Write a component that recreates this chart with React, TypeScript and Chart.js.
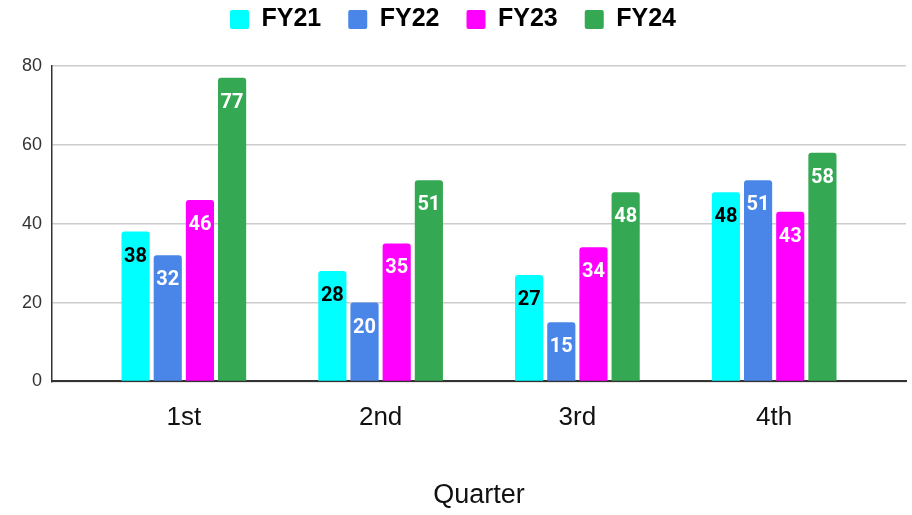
import React, { useEffect, useRef } from "react";
import { Chart, registerables } from "chart.js";

Chart.register(...registerables);

const QUARTERS = ["1st", "2nd", "3rd", "4th"];
const SERIES_NAMES = ["FY21", "FY22", "FY23", "FY24"];
const FY21 = [38, 28, 27, 48];
const FY22 = [32, 20, 15, 51];
const FY23 = [46, 35, 34, 43];
const FY24 = [77, 51, 48, 58];
const Y_TICKS = [0, 20, 40, 60, 80];
const X_TITLE = "Quarter";

const COLORS = ["#00ffff", "#4a86e8", "#ff00ff", "#34a853"];
const LABEL_COLORS = ["#000000", "#ffffff", "#ffffff", "#ffffff"];

const valueLabels = {
  id: "valueLabels",
  afterDatasetsDraw(chart: any) {
    const ctx = chart.ctx;
    ctx.save();
    ctx.font = "bold 20px Roboto";
    ctx.textAlign = "center";
    ctx.textBaseline = "middle";
    chart.data.datasets.forEach((ds: any, di: number) => {
      const meta = chart.getDatasetMeta(di);
      meta.data.forEach((bar: any, i: number) => {
        ctx.fillStyle = LABEL_COLORS[di];
        ctx.fillText(String(ds.data[i].y), bar.x, bar.y + 25);
      });
    });
    ctx.restore();
  },
};

const legendMargin = {
  id: "legendMargin",
  beforeInit(chart: any) {
    const orig = chart.legend.fit;
    chart.legend.fit = function () {
      orig.bind(chart.legend)();
      this.height += 24;
    };
  },
};

export default function App() {
  const ref = useRef<HTMLCanvasElement>(null);
  useEffect(() => {
    const series = [FY21, FY22, FY23, FY24];
    const chart = new Chart(ref.current!, {
      type: "bar",
      data: {
        datasets: series.map((vals, di) => ({
          label: SERIES_NAMES[di],
          data: vals.map((v, i) => ({ x: i, y: v })),
          backgroundColor: COLORS[di],
          borderWidth: 0,
          borderRadius: 3,
          categoryPercentage: 0.654,
          barPercentage: 0.875,
        })),
      },
      options: {
        animation: false,
        responsive: false,
        layout: { padding: { left: 0, right: 6, top: -20, bottom: 0 } },
        plugins: {
          tooltip: { enabled: false },
          legend: {
            position: "top",
            labels: {
              boxWidth: 19,
              boxHeight: 19,
              padding: 27,
              useBorderRadius: true,
              borderRadius: 2,
              color: "#000",
              font: { family: "Liberation Sans", weight: "bold", size: 25 },
            },
          },
        },
        scales: {
          x: {
            type: "linear",
            offset: false,
            min: -0.67,
            max: 3.67,
            afterBuildTicks: (scale: any) => {
              scale.ticks = QUARTERS.map((_, i) => ({ value: i }));
            },
            grid: { display: false, drawTicks: false, offset: false },
            border: { display: true, color: "#333", width: 2 },
            ticks: {
              padding: 21,
              color: "#111",
              font: { family: "Liberation Sans", size: 26 },
              callback: (v: any) => QUARTERS[v],
            },
            title: {
              display: true,
              text: X_TITLE,
              color: "#111",
              font: { family: "Liberation Sans", size: 27 },
              padding: { top: 25, bottom: 3 },
            },
          },
          y: {
            min: 0,
            max: 80,
            afterBuildTicks: (scale: any) => {
              scale.ticks = Y_TICKS.map((v) => ({ value: v }));
            },
            afterFit: (scale: any) => {
              scale.width = 52;
            },
            grid: { color: "#cccccc", lineWidth: 1.5, drawTicks: false },
            border: { display: true, color: "#333", width: 1.5 },
            ticks: {
              padding: 10,
              color: "#333",
              font: { family: "Liberation Sans", size: 18 },
            },
          },
        },
      },
      plugins: [valueLabels, legendMargin],
    });
    return () => chart.destroy();
  }, []);
  return (
    <div style={{ position: "fixed", left: 0, top: 0, width: 912, height: 515, background: "#fff" }}>
      <canvas ref={ref} width={912} height={515} style={{ display: "block" }} />
    </div>
  );
}
